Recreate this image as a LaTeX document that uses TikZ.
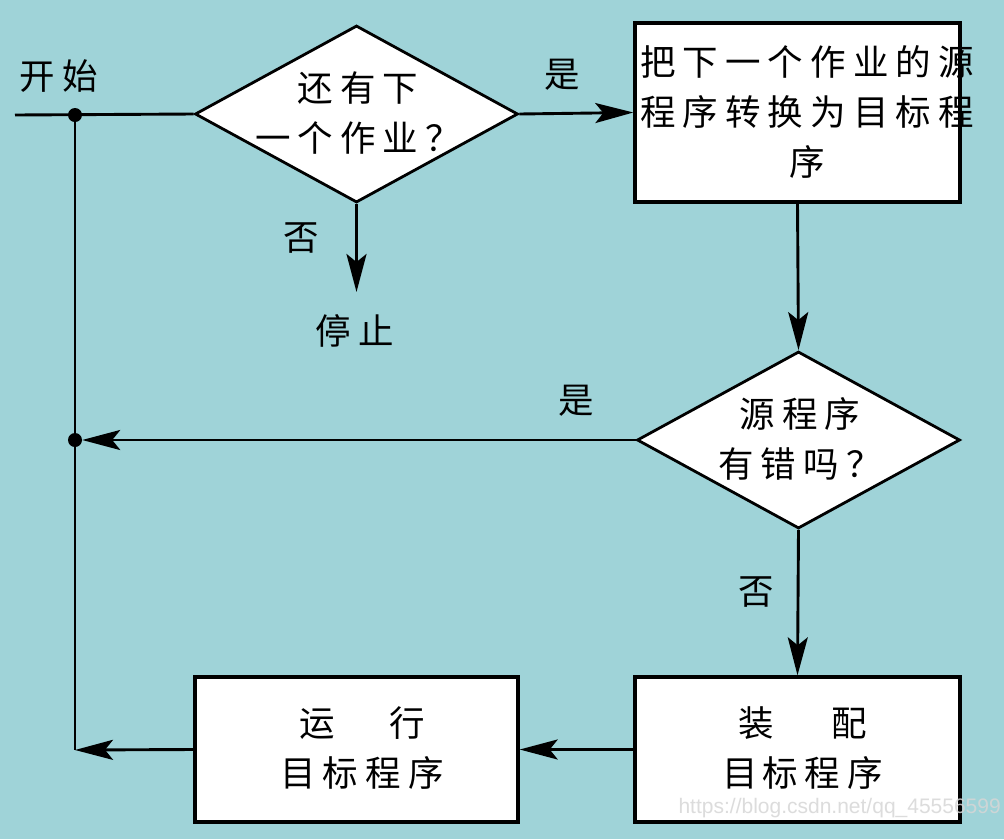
\documentclass[tikz,border=0pt]{standalone}
\usepackage{fontspec}
\setmainfont{Liberation Sans}
\newfontfamily\cjk[LetterSpace=20]{Noto Sans CJK SC}
\usetikzlibrary{arrows.meta,shapes.geometric}
\definecolor{bgteal}{RGB}{159,211,216}
\definecolor{wmgray}{RGB}{214,214,214}
\tikzset{
  cjktext/.style={font=\cjk\fontsize{35.5}{50}\selectfont, align=center, inner sep=0pt},
  boxnode/.style={draw=black, line width=3.4pt, fill=white, minimum width=325pt, minimum height=179pt, inner sep=0pt},
  decision/.style={diamond, draw=black, line width=2.8pt, fill=white, minimum width=323pt, minimum height=177pt, inner sep=0pt},
  flow/.style={line width=2.9pt, -{Stealth[length=38pt,width=20pt,inset=8pt]}},
  plain/.style={line width=2.9pt},
  junction/.style={circle, fill=black, inner sep=0pt, minimum size=14pt},
}
\begin{document}
\begin{tikzpicture}[x=1pt,y=-1pt]
\fill[bgteal] (0,0) rectangle (1004,839);
\useasboundingbox (0,0) rectangle (1004,839);

% nodes
\node[decision] (d1) at (356.5,114) {};
\node[cjktext] (d1t) at (358,113) {还有下\\一个作业？};
\node[boxnode] (b1) at (797.5,112.5) {};
\node[cjktext] (b1t) at (807,112) {把下一个作业的源\\程序转换为目标程\\序};
\node[decision] (d2) at (798.5,440) {};
\node[cjktext] (d2t) at (800,439) {源程序\\有错吗？};
\node[boxnode, minimum height=145pt] (b3) at (797.5,749.5) {};
\node[cjktext] (b3t) at (803,748) {装\hspace{58pt}配\\目\hspace{4pt}标程序};
\node[boxnode, minimum width=323pt, minimum height=145pt] (b2) at (356.5,749.5) {};
\node[cjktext] (b2t) at (362,748) {运\hspace{55pt}行\\目标程序};

\coordinate (start) at (15,115);
\node[junction] (j1) at (75,115) {};
\node[junction] (j2) at (75,440) {};
\coordinate (j3) at (75,750);
\coordinate (stop) at (356.5,292);

% labels
\node[cjktext] (lstart) at (59,76) {开始};
\node[cjktext] (lyes1) at (562,75) {是};
\node[cjktext] (lno1) at (301,238) {否};
\node[cjktext] (lstop) at (355,331) {停\hspace{8pt}止};
\node[cjktext] (lyes2) at (576,401) {是};
\node[cjktext] (lno2) at (756,592) {否};

% connectors
\draw[plain] (start) -- (d1.west);
\draw[plain] (j1.center) -- (j3);
\draw[flow] (d1.east) -- (b1.west);
\draw[flow] (d1.south) -- (stop);
\draw[flow] (b1.south) -- (d2.north);
\draw[flow] (d2.west) -- (j2.east);
\draw[flow] (d2.south) -- (b3.north);
\draw[flow] (b3.west) -- (b2.east);
\draw[flow] (b2.west) -- (j3);

\node[font=\fontsize{21}{24}\selectfont, text=wmgray, text opacity=0.85, anchor=east, inner sep=0pt] (wm) at (1001,808) {https://blog.csdn.net/qq\_45556599};
\end{tikzpicture}
\end{document}
